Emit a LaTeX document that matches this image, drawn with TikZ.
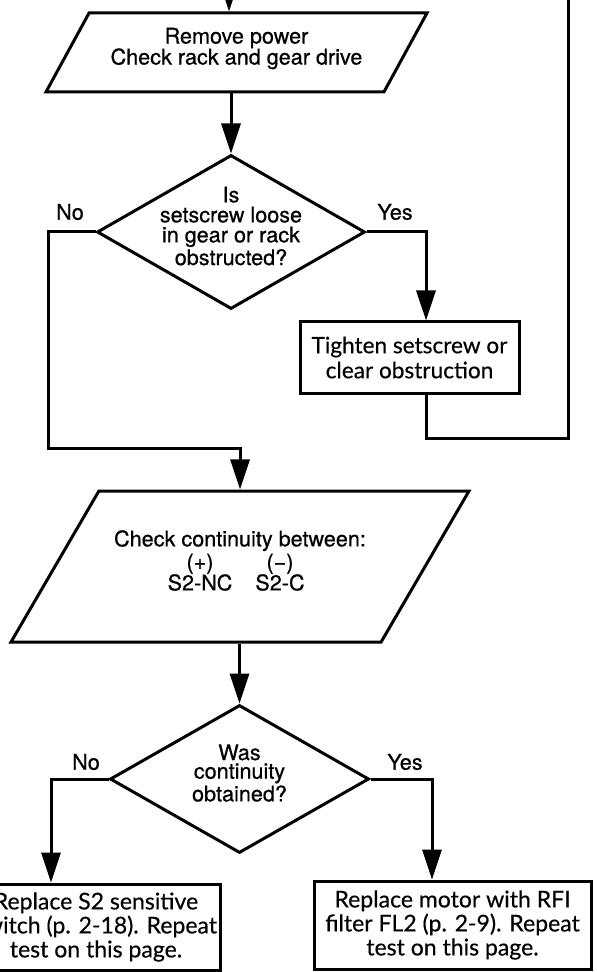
\documentclass[tikz,border=0pt]{standalone}
\usepackage{fontspec}
\usetikzlibrary{shapes.geometric, arrows.meta, calc}
\newfontfamily\heros[FakeBold=0.6]{TeX Gyre Heros}
\newfontfamily\humanist[FakeBold=0.4]{Lato}
\tikzstyle{pgram}=[draw, trapezium, trapezium stretches body, inner sep=0pt, text depth=0pt]
\tikzstyle{decide}=[draw, diamond, inner sep=0pt]
\tikzstyle{act}=[draw, rectangle, inner sep=0pt, align=center, font=\humanist\fontsize{11.5pt}{12pt}\selectfont]
\tikzstyle{txt}=[inner sep=0pt, align=center, font=\heros\fontsize{10.8pt}{10.5pt}\selectfont]
\tikzstyle{tag}=[inner sep=0pt, font=\heros\fontsize{10.8pt}{10.8pt}\selectfont]

\begin{document}
\begin{tikzpicture}[x=0.5pt, y=-0.5pt, line width=1.5pt, >={Triangle[length=15pt, width=9.5pt]}]
		\useasboundingbox (0,0) rectangle (596,972);
		
		% first check
		\node (power) [pgram, trapezium left angle=61.4, trapezium right angle=118.6, minimum width=190.5pt, text height=39.5pt] at (236.5,52.5) {};
		\node (powertxt) [txt, yshift=2pt] at (power) {Remove power\\Check rack and gear drive};
		\node (loose) [decide, minimum width=134pt, minimum height=77pt] at (231,232) {};
		\node (loosetxt) [txt, yshift=3pt, font=\heros\fontsize{10.8pt}{10pt}\selectfont] at (loose) {Is\\setscrew loose\\in gear or rack\\obstructed?};
		\node (tight) [act, minimum width=109.5pt, minimum height=35.5pt, font=\humanist\fontsize{11.3pt}{12.5pt}\selectfont] at (409.5,357.5) {Tighten setscrew or\\clear obstruction};
		
		% continuity check
		\node (cont) [pgram, trapezium left angle=59.8, trapezium right angle=120.2, minimum width=229pt, text height=75.5pt] at (240,566.5) {};
		\node (conttxt) [txt, yshift=3pt] at (cont) {Check continuity between:\\[1pt] \makebox[40pt]{(+)}\makebox[40pt]{(−)}\\ \makebox[40pt]{S2-NC}\makebox[40pt]{S2-C}};
		\node (obt) [decide, minimum width=129.5pt, minimum height=74pt] at (239.5,779) {};
		\node (obttxt) [txt, yshift=3pt, font=\heros\fontsize{10.8pt}{9.3pt}\selectfont] at (obt) {Was\\continuity\\obtained?};
		\node (sw) [act, minimum width=124pt, minimum height=43pt] at (96,927) {Replace S2 sensitive\\switch (p. 2-18). Repeat\\test on this page.};
		\node (motor) [act, minimum width=138.5pt, minimum height=44pt] at (452.5,925) {Replace motor with RFI\\filter FL2 (p. 2-9). Repeat\\test on this page.};
		
		% branch labels
		\node (no1) [tag] at (70,212) {No};
		\node (yes1) [tag] at (395,212) {Yes};
		\node (no2) [tag] at (86,762) {No};
		\node (yes2) [tag] at (405,762) {Yes};
		
		% open ends and columns
		\coordinate (enter) at (229,0);
		\coordinate (back) at (568,0);
		\coordinate (nocol) at (48,448);
		\coordinate (yescol) at (426,438);
		\coordinate (swcol) at (51,0);
		\coordinate (motorcol) at (432,0);
		
		\draw[->] (enter) -- (enter |- power.north);
		\draw[->] (loose.north |- power.south) -- (loose.north);
		\draw[->] (loose.west) -| (nocol) -| (cont.north);
		\draw[->] (loose.east) -| (yescol |- tight.north);
		\draw (yescol |- tight.south) -- (yescol) -| (back);
		\draw[->] (obt.north |- cont.south) -- (obt.north);
		\draw[->] (obt.west) -| (swcol |- sw.north);
		\draw[->] (obt.east) -| (motorcol |- motor.north);
		
		\end{tikzpicture}
\end{document}
